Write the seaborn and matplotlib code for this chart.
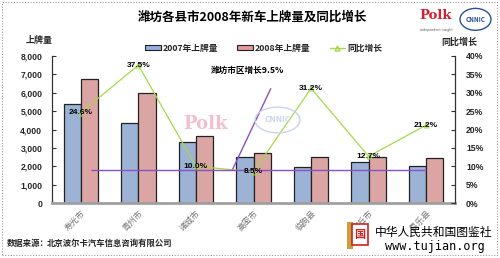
import numpy as np
import pandas as pd
import matplotlib
matplotlib.use("Agg")
import matplotlib.pyplot as plt
from matplotlib.patches import Patch, Rectangle, Ellipse
from matplotlib.lines import Line2D
import matplotlib.ticker as mticker
import seaborn as sns

cities = ["寿光市", "青州市", "诸城市", "高密市", "临朐县", "安丘市", "昌乐县"]
reg_2007 = [5400, 4350, 3300, 2500, 1950, 2230, 2010]
reg_2008 = [6750, 5990, 3640, 2710, 2500, 2510, 2440]
growth = [24.6, 37.5, 10.0, 8.5, 31.2, 12.7, 21.2]
growth_labels = ["24.6%", "37.5%", "10.0%", "8.5%", "31.2%", "12.7%", "21.2%"]
city_avg = 9.0
city_avg_label = "潍坊市区增长9.5%"
series_names = ["2007年上牌量", "2008年上牌量"]
left_ticks = [0, 1000, 2000, 3000, 4000, 5000, 6000, 7000, 8000]
right_ticks = [0, 5, 10, 15, 20, 25, 30, 35, 40]

sns.set_theme(style="white")
plt.rcParams["font.family"] = ["Noto Sans CJK SC", "DejaVu Sans"]

df = pd.DataFrame({
    "city": cities * 2,
    "value": reg_2007 + reg_2008,
    "series": [series_names[0]] * len(cities) + [series_names[1]] * len(cities),
})

blue = "#93B1DE"
red = "#E39C9A"
green = "#A6D84A"
purple = "#8A4FCB"

fig = plt.figure(figsize=(5.0, 2.58), dpi=100)
ax = fig.add_axes([0.104, 0.213, 0.806, 0.57])

sns.barplot(data=df, x="city", y="value", hue="series", order=cities,
            hue_order=series_names, palette=[blue, red], width=0.6,
            edgecolor="#222222", linewidth=0.9, legend=False, ax=ax)
ax.set_ylim(0, 8000)
ax.set_xlim(-0.5, len(cities) - 0.5)
ax.set_yticks(left_ticks)
ax.yaxis.set_major_formatter(mticker.FuncFormatter(lambda v, p: f"{int(v):,}"))
ax.set_xlabel("")
ax.set_ylabel("")
for lab in ax.get_yticklabels():
    lab.set_fontweight("bold")
    lab.set_fontsize(6.2)
    lab.set_family(["Liberation Sans", "DejaVu Sans"])
ax.set_xticks(range(len(cities)))
ax.set_xticklabels(cities, rotation=45, ha="right", rotation_mode="anchor",
                   fontsize=6, color="#777777")
ax.tick_params(axis="x", length=0, pad=4)
ax.tick_params(axis="y", direction="in", length=3, width=0.8, color="#333333", pad=7, left=True)
ax.spines["top"].set_visible(False)
ax.spines["right"].set_visible(False)
ax.spines["left"].set_color("#333333")
ax.spines["left"].set_linewidth(0.9)
ax.spines["bottom"].set_color("#A0A0A0")
ax.spines["bottom"].set_linewidth(2.0)

ax2 = ax.twinx()
xpos = np.arange(len(cities))
sns.lineplot(x=xpos, y=growth, ax=ax2, color=green, linewidth=0.9,
             marker="^", markersize=3.5, markerfacecolor="none",
             markeredgecolor=green, legend=False)
ax2.set_ylim(0, 40)
ax2.set_xlim(-0.5, len(cities) - 0.5)
ax2.set_yticks(right_ticks)
ax2.set_yticklabels([f"{t}%" for t in right_ticks])
for lab in ax2.get_yticklabels():
    lab.set_fontweight("bold")
    lab.set_fontsize(6.2)
    lab.set_family(["Liberation Sans", "DejaVu Sans"])
ax2.tick_params(axis="y", direction="in", length=3, width=0.8, color="#333333", pad=8, right=True)
ax2.set_ylabel("")
for s in ["top", "left", "bottom"]:
    ax2.spines[s].set_visible(False)
ax2.spines["right"].set_color("#333333")
ax2.spines["right"].set_linewidth(0.9)
ax2.grid(False)
ax.grid(False)

for x, g, t in zip(xpos, growth, growth_labels):
    ax2.text(x, g, t, ha="center", va="center", fontsize=6, fontweight="bold",
             family=["Liberation Sans", "DejaVu Sans"], color="black")

# city average line and annotation
ax2.hlines(city_avg, 0.17, len(cities) - 1, color=purple, linewidth=1.0)
ax2.annotate("", xy=(2.62, city_avg - 0.4), xytext=(3.32, 31.8),
             arrowprops=dict(arrowstyle="-", color=purple, lw=1.0))
ax2.text(2.9, 36.0, city_avg_label, ha="center", va="center", fontsize=6.2,
         fontweight="bold", color="black")

# faint watermark logos in plot
fig.text(0.41, 0.52, "Polk", ha="center", va="center", fontsize=13, fontweight="bold",
         color="#F2B8C8", family=["DejaVu Serif"], alpha=0.9)
e = Ellipse((0.555, 0.535), 0.09, 0.1, transform=fig.transFigure, fill=False,
            edgecolor="#C8D4EC", linewidth=1.0)
fig.add_artist(e)
fig.text(0.555, 0.535, "CNNIC", ha="center", va="center", fontsize=6,
         color="#C8D4EC", fontweight="bold")

# titles and labels
fig.text(0.504, 0.934, "潍坊各县市2008年新车上牌量及同比增长", ha="center", va="center",
         fontsize=9, fontweight="bold", color="black")
fig.text(0.078, 0.845, "上牌量", ha="center", va="center", fontsize=6.5, fontweight="bold")
fig.text(0.918, 0.837, "同比增长", ha="center", va="center", fontsize=6.5, fontweight="bold")

handles = [Patch(facecolor=blue, edgecolor="#222222", linewidth=0.8),
           Patch(facecolor=red, edgecolor="#222222", linewidth=0.8),
           Line2D([0], [0], color=green, lw=1, marker="^", markersize=3.5,
                  markerfacecolor="none", markeredgecolor=green)]
fig.legend(handles, series_names + ["同比增长"], loc="center", bbox_to_anchor=(0.527, 0.812),
           ncol=3, frameon=False, fontsize=6.3, handlelength=1.8, handleheight=0.5,
           columnspacing=2.2, handletextpad=0.2, prop={"weight": "bold", "size": 6.3})

fig.text(0.014, 0.058, "数据来源：", ha="left", va="center", fontsize=6, fontweight="bold")
fig.text(0.094, 0.058, "北京波尔卡汽车信息咨询有限公司", ha="left", va="center", fontsize=6,
         fontweight="bold")

# top-right logos
fig.text(0.872, 0.94, "Polk", ha="center", va="center", fontsize=9.5, fontweight="bold",
         color="#D42030", family=["DejaVu Serif"])
fig.text(0.872, 0.885, "independent insight", ha="center", va="center", fontsize=2.5,
         color="#555555")
e2 = Ellipse((0.951, 0.925), 0.062, 0.085, transform=fig.transFigure, fill=False,
             edgecolor="#2A4FA0", linewidth=1.0)
fig.add_artist(e2)
fig.text(0.951, 0.925, "CNNIC", ha="center", va="center", fontsize=4.5,
         color="#2A4FA0", fontweight="bold")

# bottom-right watermark
fig.add_artist(Rectangle((0.694, 0.035), 0.012, 0.105, transform=fig.transFigure,
                         facecolor="#C8A040", edgecolor="none"))
fig.add_artist(Rectangle((0.704, 0.05), 0.032, 0.08, transform=fig.transFigure,
                         facecolor="white", edgecolor="#D02020", linewidth=1.2))
fig.text(0.72, 0.09, "国", ha="center", va="center", fontsize=8, fontweight="bold",
         color="#D02020")
fig.text(0.75, 0.10, "中华人民共和国图鉴社", ha="left", va="center", fontsize=8.5,
         color="black")
fig.text(0.77, 0.045, "www.tujian.org", ha="left", va="center", fontsize=8.5,
         color="black", family=["DejaVu Sans Mono"])

# dotted border
fig.add_artist(Rectangle((0.004, 0.012), 0.99, 0.982, transform=fig.transFigure,
                         fill=False, edgecolor="#9A9A9A", linewidth=0.8,
                         linestyle=(0, (1, 1.5))))

fig.savefig("out.png", dpi=100)
